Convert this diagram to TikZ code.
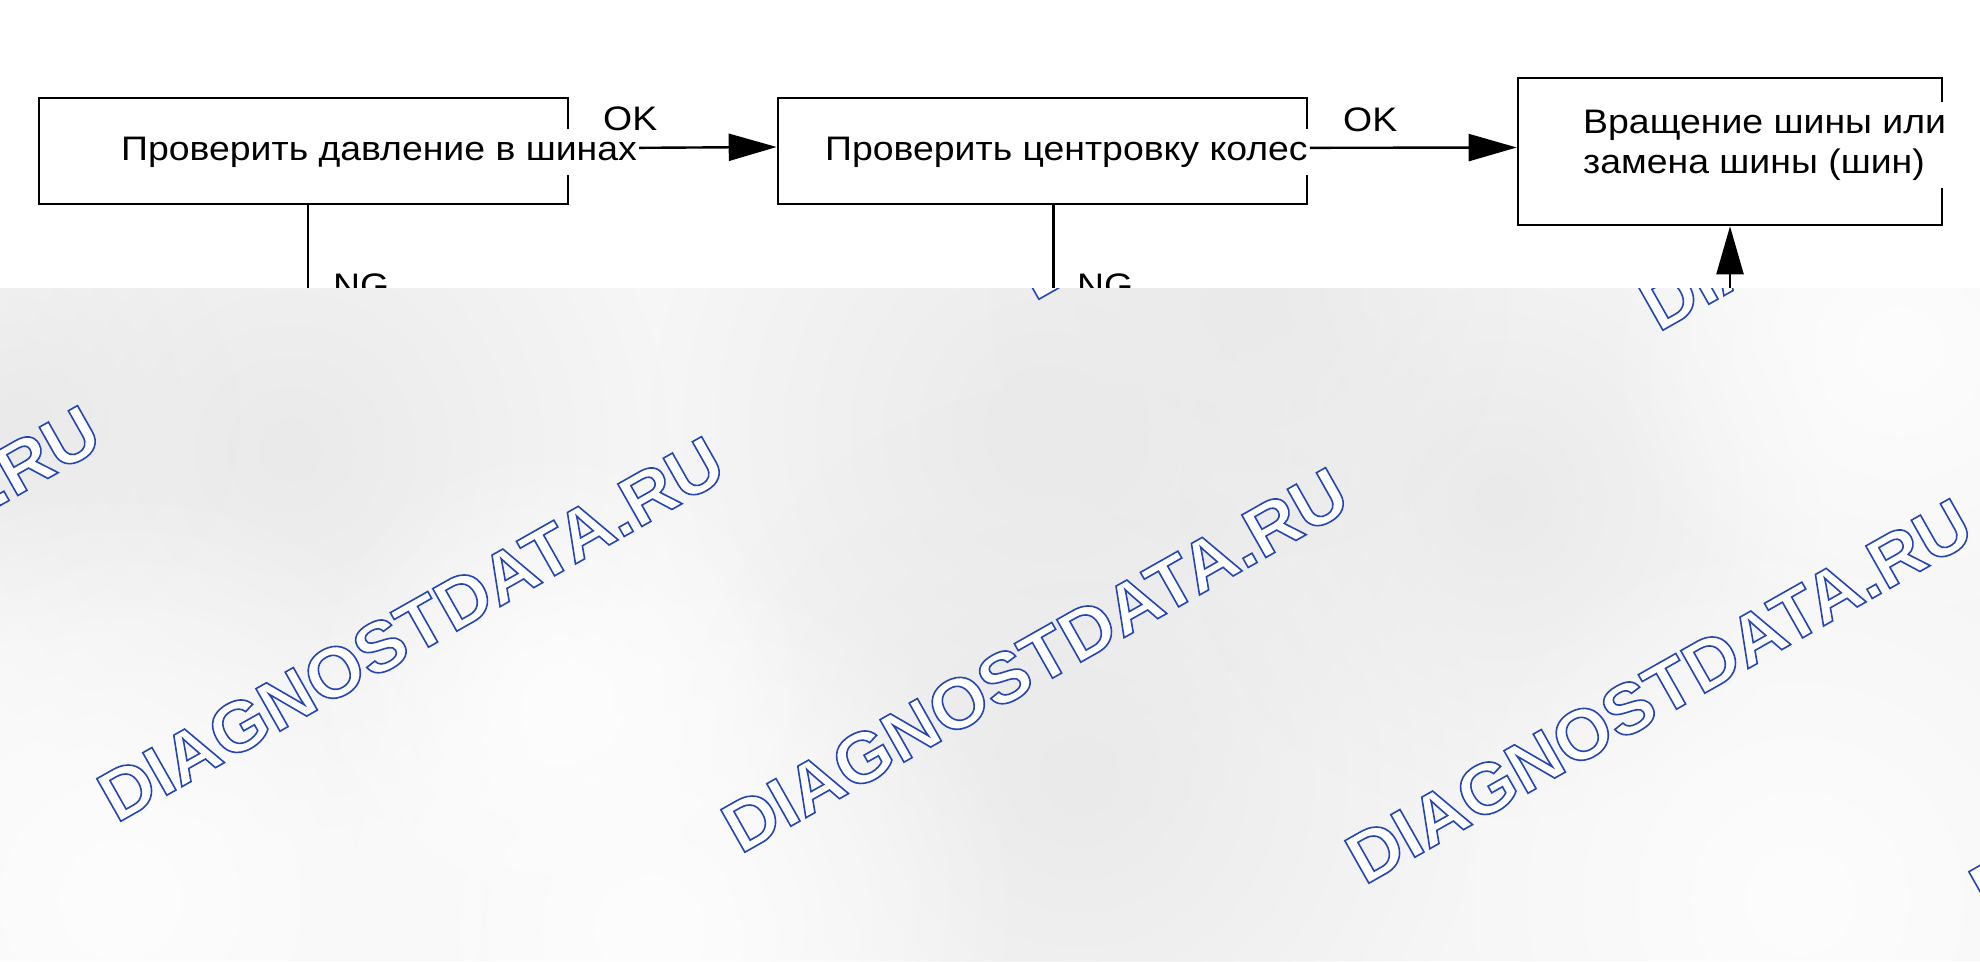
\documentclass[tikz,border=0pt]{standalone}
\usepackage{fontspec}
\setmainfont{Liberation Sans}[FakeStretch=1.1]
\newfontfamily\wmfont{Liberation Sans}[FakeStretch=1.03]
\usetikzlibrary{arrows.meta,fadings}
\definecolor{wmblue}{RGB}{36,70,178}
\definecolor{bgc}{RGB}{246,246,246}
\definecolor{blobc}{RGB}{234,234,234}
\definecolor{lightc}{RGB}{253,253,253}
\tikzfading[name=blobfade, inner color=transparent!0, outer color=transparent!100]
\newcommand{\outlinetext}[1]{\special{pdf:literal direct 2 Tr 1.6 w 1 g}#1\special{pdf:literal direct 0 Tr}}
\begin{document}
\begin{tikzpicture}[x=1pt,y=-1pt,
  boxsty/.style={draw=black, line width=2.6pt, inner sep=0pt},
  txt/.style={fill=white, inner xsep=2pt, inner ysep=8pt, font=\fontsize{34}{40}\selectfont},
  lbl/.style={inner sep=0pt, font=\fontsize{34}{39}\selectfont, anchor=base west},
  conn/.style={line width=2.4pt, draw=black},
  arr/.style={-{Triangle[length=48pt,width=27pt]}},
  wm/.style={inner sep=0pt, rotate=29.5, text=wmblue, font=\wmfont\bfseries\fontsize{71}{71}\selectfont}]
\useasboundingbox (0,0) rectangle (1980,961);
\fill[white] (0,0) rectangle (1980,961);

% boxes
\node[boxsty, minimum width=529pt, minimum height=106pt] (b1) at (303.5,151) {};
\node[boxsty, minimum width=529pt, minimum height=106pt] (b2) at (1042.5,151) {};
\node[boxsty, minimum width=424pt, minimum height=147pt] (b3) at (1730,151.5) {};

% texts
\node[txt, anchor=base west] (t1) at (119,160) {Проверить давление в шинах};
\node[txt, anchor=base west] (t2) at (823,160) {Проверить центровку колес};
\node[txt, anchor=north west, align=left] (t3) at (1581,101.5) {Вращение шины или\\замена шины (шин)};

% connectors
\draw[conn, arr] ([yshift=4pt]t1.east) -- ([yshift=4pt]b2.west);
\draw[conn, arr] ([yshift=4pt]t2.east) -- ([yshift=4pt]b3.west);
\node[lbl] (ok1) at (603,130) {OK};
\node[lbl] (ok2) at (1343,131) {OK};

\coordinate (e1) at (308,300);
\coordinate (e2) at (1053.5,300);
\coordinate (e3) at (1730,300);
\draw[conn] (b1.south -| e1) -- (e1);
\draw[conn] (b2.south -| e2) -- (e2);
\draw[conn, arr] (e3) -- (b3.south -| e3);
\node[lbl] (ng1) at (333,297.4) {NG};
\node[lbl] (ng2) at (1077,297.4) {NG};

% overlay
\fill[bgc] (0,288) rectangle (1980,961);
\begin{scope}
\clip (0,288) rectangle (1980,961);
\foreach \bx/\by/\br in {290/450/380, 1050/430/400, 1080/780/400, 1500/500/320, 1250/300/260, 20/420/220}{
  \fill[blobc, path fading=blobfade] (\bx,\by) circle (\br);
}
\foreach \bx/\by/\br in {120/900/420, 650/930/380, 1800/900/380, 1900/350/300, 560/700/260}{
  \fill[lightc, path fading=blobfade] (\bx,\by) circle (\br);
}
\foreach \cx/\cy [count=\i] in {-213/598, 411/629, 1035/660, 1659/691, 2283/722, 1329/107, 1953/138} {
  \node[wm] (wm\i) at (\cx,\cy) {\outlinetext{DIAGNOSTDATA.RU}};
}
\end{scope}
\end{tikzpicture}
\end{document}
